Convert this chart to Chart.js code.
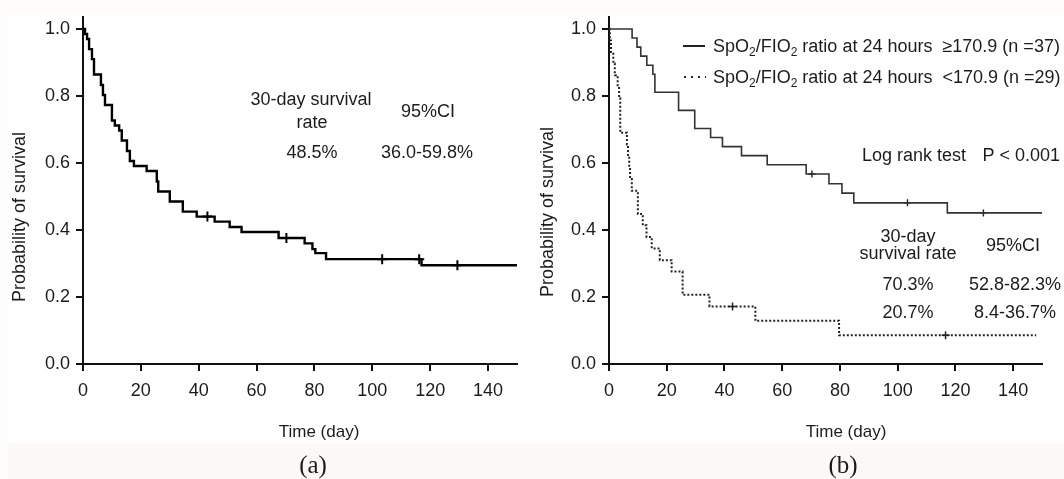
<!DOCTYPE html>
<html>
<head>
<meta charset="utf-8">
<script src="https://cdn.jsdelivr.net/npm/chart.js@4.4.0/dist/chart.umd.min.js"></script>
<style>
  html, body { margin: 0; padding: 0; background: #fefdfb; }
  #wrap { position: relative; width: 1064px; height: 479px; overflow: hidden; background: #fefdfb; }
  #panel { position: absolute; left: 8px; top: 13px; width: 1056px; height: 430px; background: #fff; }
  #foot { position: absolute; left: 8px; top: 443px; width: 1056px; height: 36px; background: #faf9f6; }
  canvas { position: absolute; left: 0; top: 0; }
</style>
</head>
<body>
<div id="wrap">
  <div id="panel"></div>
  <div id="foot"></div>
  <canvas id="kmA" width="1064" height="479"></canvas>
  <canvas id="kmB" width="1064" height="479"></canvas>
</div>
<script>
  // (a) all patients
  let allDays = [0, 0.7, 1.4, 2.1, 3.1, 3.8, 6.2, 6.9, 7.6, 10, 11, 12.5, 13.4, 15.2, 16.2, 17.6, 22, 25.5, 26, 30, 34.5, 39.3, 45.5, 50.7, 54.8, 67.6, 76.6, 79.3, 80.3, 84, 117, 150];
  let allSurv = [1, 0.985, 0.97, 0.94, 0.91, 0.864, 0.833, 0.803, 0.773, 0.727, 0.712, 0.697, 0.667, 0.636, 0.606, 0.591, 0.576, 0.545, 0.515, 0.485, 0.455, 0.44, 0.425, 0.409, 0.394, 0.376, 0.36, 0.343, 0.331, 0.313, 0.295, 0.295];
  let allCensorDays = [43, 70.3, 103.4, 116.2, 129.4];
  let allCensorSurv = [0.44, 0.376, 0.313, 0.313, 0.295];

  // (b) by SpO2/FIO2 ratio at 24 hours
  let highDays = [0, 8, 9.7, 11, 13.1, 15.2, 15.9, 24.1, 29.7, 35.2, 39.3, 45.9, 54.8, 68.3, 76.2, 80.7, 84.8, 117.2, 150];
  let highSurv = [1, 0.973, 0.946, 0.919, 0.892, 0.865, 0.811, 0.757, 0.703, 0.676, 0.649, 0.622, 0.595, 0.567, 0.538, 0.51, 0.481, 0.451, 0.451];
  let highCensorDays = [70.3, 103.4, 129.7];
  let highCensorSurv = [0.567, 0.481, 0.451];

  let lowDays = [0, 0.3, 0.7, 1.5, 2.0, 3.0, 3.5, 3.9, 6.2, 6.6, 7.0, 7.3, 7.9, 10.0, 11.7, 13.0, 14.8, 17.6, 21.7, 25.5, 34.8, 50.7, 79.7, 148];
  let lowSurv = [1, 0.966, 0.931, 0.897, 0.862, 0.828, 0.793, 0.69, 0.655, 0.621, 0.586, 0.552, 0.517, 0.448, 0.414, 0.379, 0.345, 0.31, 0.276, 0.207, 0.172, 0.129, 0.086, 0.086];
  let lowCensorDays = [42.8, 116.6];
  let lowCensorSurv = [0.172, 0.086];

  let xTicks = [0, 20, 40, 60, 80, 100, 120, 140];
  let yTicks = [0.0, 0.2, 0.4, 0.6, 0.8, 1.0];

  const FONT = '"Liberation Sans", Arial, sans-serif';
  const SERIF = '"Liberation Serif", "Times New Roman", serif';
  const INK = '#1c1c1c';

  function pts(xs, ys) {
    return xs.map(function(x, i) { return {x: x, y: ys[i]}; });
  }

  function txt(ctx, s, x, y, size, align, font) {
    ctx.font = size + 'px ' + (font || FONT);
    ctx.textAlign = align || 'center';
    ctx.textBaseline = 'alphabetic';
    ctx.fillText(s, x, y);
  }

  function yTitle(ctx, x, y) {
    ctx.save();
    ctx.translate(x, y);
    ctx.rotate(-Math.PI / 2);
    ctx.font = '18px ' + FONT;
    ctx.textAlign = 'center';
    ctx.textBaseline = 'middle';
    ctx.fillText('Probability of survival', 0, 0);
    ctx.restore();
  }

  // text with subscripts: parts = [[string, isSub], ...]
  function rich(ctx, parts, x, y, size) {
    let cx = x;
    ctx.textAlign = 'left';
    ctx.textBaseline = 'alphabetic';
    parts.forEach(function(p) {
      ctx.font = (p[1] ? 12 : size) + 'px ' + FONT;
      ctx.fillText(p[0], cx, y + (p[1] ? 4 : 0));
      cx += ctx.measureText(p[0]).width;
    });
  }

  function scales(axisWidth) {
    return {
      x: {
        type: 'linear', min: 0, max: 150,
        afterFit: function(s) { s.height = 115; },
        afterBuildTicks: function(s) { s.ticks = xTicks.map(function(v) { return {value: v}; }); },
        grid: { display: true, drawOnChartArea: false, drawTicks: true, tickLength: 7, lineWidth: 2, color: '#111' },
        border: { display: true, width: 2, color: '#111' },
        ticks: { color: INK, padding: 9, font: { family: FONT, size: 18 }, maxRotation: 0 }
      },
      y: {
        type: 'linear', min: 0, max: 347 / 335,
        afterFit: function(s) { s.width = axisWidth; },
        afterBuildTicks: function(s) { s.ticks = yTicks.map(function(v) { return {value: v}; }); },
        grid: { display: true, drawOnChartArea: false, drawTicks: true, tickLength: 7, lineWidth: 2, color: '#111' },
        border: { display: true, width: 2, color: '#111' },
        ticks: { color: INK, padding: 6, font: { family: FONT, size: 18 },
          callback: function(v) { return v.toFixed(1); } }
      }
    };
  }

  const textA = {
    id: 'textA',
    afterDraw: function(chart) {
      const ctx = chart.ctx;
      ctx.save();
      ctx.fillStyle = INK;
      yTitle(ctx, 20, 217);
      txt(ctx, 'Time (day)', 319, 437, 17);
      txt(ctx, '(a)', 313, 473, 25, 'center', SERIF);
      txt(ctx, '30-day survival', 311, 105, 18);
      txt(ctx, 'rate', 312, 128, 18);
      txt(ctx, '48.5%', 312, 158, 18);
      txt(ctx, '95%CI', 428, 117, 18);
      txt(ctx, '36.0-59.8%', 427, 158, 18);
      ctx.restore();
    }
  };

  const textB = {
    id: 'textB',
    afterDraw: function(chart) {
      const ctx = chart.ctx;
      ctx.save();
      ctx.fillStyle = INK;
      yTitle(ctx, 548, 212);
      txt(ctx, 'Time (day)', 846, 437, 17);
      txt(ctx, '(b)', 843, 473, 25, 'center', SERIF);

      // legend
      ctx.strokeStyle = '#222';
      ctx.lineWidth = 2;
      ctx.beginPath(); ctx.moveTo(683, 46); ctx.lineTo(705, 46); ctx.stroke();
      ctx.setLineDash([2, 5]);
      ctx.beginPath(); ctx.moveTo(684, 77); ctx.lineTo(706, 77); ctx.stroke();
      ctx.setLineDash([]);
      rich(ctx, [['SpO', 0], ['2', 1], ['/FIO', 0], ['2', 1], [' ratio at 24 hours  \u2265170.9 (n =37)', 0]], 713, 52, 18);
      rich(ctx, [['SpO', 0], ['2', 1], ['/FIO', 0], ['2', 1], [' ratio at 24 hours  <170.9 (n =29)', 0]], 713, 83, 18);

      txt(ctx, 'Log rank test', 862, 161, 18, 'left');
      txt(ctx, 'P < 0.001', 1060, 161, 18, 'right');
      txt(ctx, '30-day', 908, 242, 18);
      txt(ctx, 'survival rate', 908, 259, 18);
      txt(ctx, '95%CI', 1013, 251, 18);
      txt(ctx, '70.3%', 908, 290, 18);
      txt(ctx, '20.7%', 908, 318, 18);
      txt(ctx, '52.8-82.3%', 1015, 290, 18);
      txt(ctx, '8.4-36.7%', 1015, 318, 18);
      ctx.restore();
    }
  };

  const common = {
    responsive: false,
    animation: false,
    plugins: { legend: { display: false }, tooltip: { enabled: false } },
    elements: { point: { radius: 0 } }
  };

  window.onload = function() {
    new Chart(document.getElementById('kmA'), {
      type: 'line',
      data: {
        datasets: [{
          data: pts(allDays, allSurv),
          stepped: true, borderColor: '#000', borderWidth: 2.4, pointRadius: 0, fill: false
        }, {
          data: pts(allCensorDays, allCensorSurv),
          showLine: false, pointStyle: 'cross', pointRadius: 5, borderWidth: 2, borderColor: '#000'
        }]
      },
      options: Object.assign({}, common, {
        layout: { padding: { left: 0, right: 1064 - 517, top: 17, bottom: 0 } },
        scales: scales(83)
      }),
      plugins: [textA]
    });

    new Chart(document.getElementById('kmB'), {
      type: 'line',
      data: {
        datasets: [{
          data: pts(highDays, highSurv),
          stepped: true, borderColor: '#333', borderWidth: 1.6, pointRadius: 0, fill: false
        }, {
          data: pts(lowDays, lowSurv),
          stepped: true, borderColor: '#222', borderWidth: 2, borderDash: [2, 2], pointRadius: 0, fill: false
        }, {
          data: pts(highCensorDays, highCensorSurv),
          showLine: false, pointStyle: 'cross', pointRadius: 3.5, borderWidth: 1.4, borderColor: '#222'
        }, {
          data: pts(lowCensorDays, lowCensorSurv),
          showLine: false, pointStyle: 'cross', pointRadius: 4, borderWidth: 1.5, borderColor: '#222'
        }]
      },
      options: Object.assign({}, common, {
        layout: { padding: { left: 0, right: 1064 - 1042, top: 17, bottom: 0 } },
        scales: scales(609)
      }),
      plugins: [textB]
    });
  };
</script>
</body>
</html>
